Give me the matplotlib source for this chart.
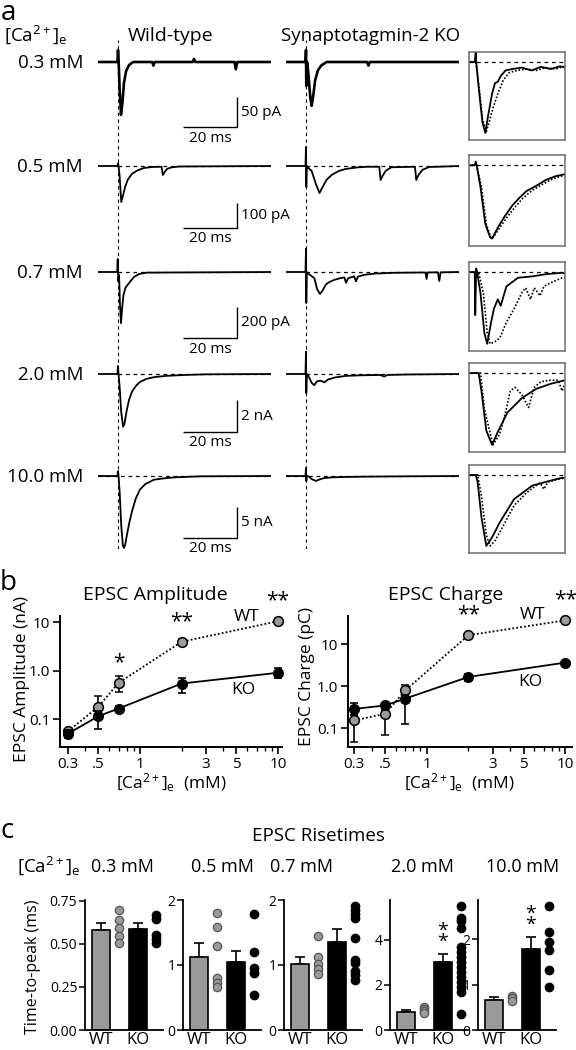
"""
Syt2 KO EPSCs - traces, Ca dependence, risetimes
"""

import matplotlib
matplotlib.use('Agg')
import matplotlib.pyplot as plt
from matplotlib.ticker import FixedLocator, NullLocator, NullFormatter

plt.rcParams['font.family'] = ['Open Sans', 'DejaVu Sans']
plt.rcParams['mathtext.fontset'] = 'custom'
plt.rcParams['mathtext.rm'] = 'Open Sans'
plt.rcParams['mathtext.it'] = 'Open Sans:italic'

W, H = 576, 1050
CA_TXT = r'[Ca$^{2+}$]$_{\rm e}$'

# ---------------- panel a : traces (ms, pA or nA) ----------------
row_labels = ['0.3 mM', '0.5 mM', '0.7 mM', '2.0 mM', '10.0 mM']
bar_labels = ['50 pA', '100 pA', '200 pA', '2 nA', '5 nA']
bar_sizes = [50, 100, 200, 2, 5]
stim_t = 7.4

wt03_t = [0, 7.2, 7.4, 7.6, 8.0, 8.5, 9.0, 9.6, 10.4, 11.5, 13, 20, 20.5, 21, 35, 35.5, 36, 50.5, 51, 51.5, 64]
wt03_v = [0, 0, 20, 5, -45, -88, -70, -35, -15, -5, 0, 0, -6, 0, 0, 5, 0, 0, -12, 0, 0]
ko03_t = [0, 7.2, 7.4, 7.5, 7.8, 8.3, 9.0, 9.5, 10.1, 10.8, 11.8, 13, 15, 30, 30.5, 31, 64]
ko03_v = [0, 0, 20, -40, 0, -20, -60, -73, -55, -30, -14, -6, 0, 0, -6, 0, 0]

wt05_t = [0, 7.2, 7.4, 7.6, 8.0, 8.6, 9.2, 10.0, 11.0, 12.5, 14.5, 17, 20, 23.5, 24.0, 24.6, 25.5, 27, 30, 64]
wt05_v = [0, 0, 10, 0, -40, -144, -120, -85, -55, -32, -18, -8, -4, -3, -36, -25, -12, -6, -2, 0]
ko05_t = [0, 7.2, 7.4, 7.5, 7.7, 8.0, 9.5, 11.0, 12.4, 13.5, 15, 17, 19.5, 22, 26, 30, 34.5, 35.0, 35.8,
          37, 39, 47.7, 48.2, 49, 50.5, 53, 64]
ko05_v = [0, 0, 76, -84, 0, -5, -20, -70, -108, -85, -55, -35, -20, -12, -6, -3, -3, -56, -38,
          -18, -5, -3, -56, -36, -15, -4, 0]

wt07_t = [0, 7.1, 7.3, 7.5, 7.8, 8.1, 8.5, 8.9, 9.4, 10.2, 11.5, 13.3, 15.2, 18, 64]
wt07_v = [0, 0, 84, -60, -20, -200, -330, -240, -150, -100, -71, -32, -13, -4, 0]
ko07_t = [0, 7.2, 7.4, 7.5, 7.7, 8.2, 10.5, 11.5, 12.6, 13.5, 14.8, 16, 18, 20, 21.6, 22.2, 23, 25.2,
          25.9, 26.6, 29, 33, 40, 51.6, 52.0, 52.4, 56.2, 56.7, 57.2, 64]
ko07_v = [0, 0, 155, -200, 0, -10, -40, -110, -142, -120, -80, -65, -50, -40, -35, -70, -40, -28,
          -60, -30, -18, -10, -5, -3, -45, -3, -2, -58, -2, 0]

wt20_t = [0, 7.2, 7.4, 7.6, 8.0, 8.6, 9.3, 9.8, 10.6, 11.5, 12.6, 14, 15.5, 18, 21, 25, 32, 40, 64]
wt20_v = [0, 0, 0.5, 0, -0.8, -2.4, -3.3, -3.1, -2.3, -1.6, -1.1, -0.75, -0.5, -0.3, -0.19, -0.12, -0.06, -0.02, 0]
ko20_t = [0, 7.2, 7.4, 7.5, 7.7, 8.5, 9.5, 10.4, 11.5, 12.8, 14.2, 15.5, 18, 22, 28, 35, 36.3, 37.5, 45, 64]
ko20_v = [0, 0, 1.4, -1.2, 0, -0.2, -0.55, -0.7, -0.45, -0.42, -0.52, -0.35, -0.22, -0.12, -0.08, -0.06,
          -0.16, -0.06, -0.03, 0]

wt10_t = [0, 7.2, 7.4, 7.6, 8.0, 8.6, 9.2, 9.6, 10.1, 10.7, 11.6, 12.7, 14, 15.5, 17.5, 20.7, 25, 29, 38, 64]
wt10_v = [0, 0, 0.8, 0, -2.5, -8, -11.2, -11.6, -11.0, -9.5, -7.5, -5.5, -3.6, -2.2, -1.3, -0.6, -0.35,
          -0.2, -0.05, 0]
ko10_t = [0, 7.2, 7.4, 7.5, 7.7, 8.5, 9.5, 11.0, 12.5, 14, 17, 22, 30, 45, 64]
ko10_v = [0, 0, 1.3, -0.8, 0, -0.1, -0.5, -0.8, -0.55, -0.35, -0.22, -0.15, -0.1, -0.05, 0]

wt_traces = [(wt03_t, wt03_v), (wt05_t, wt05_v), (wt07_t, wt07_v), (wt20_t, wt20_v), (wt10_t, wt10_v)]
ko_traces = [(ko03_t, ko03_v), (ko05_t, ko05_v), (ko07_t, ko07_v), (ko20_t, ko20_v), (ko10_t, ko10_v)]

# normalised insets (time as fraction of window, amplitude / peak)
in03_wt = ([0, 0.06, 0.07, 0.075, 0.10, 0.14, 0.17, 0.20, 0.24, 0.27, 0.30, 0.33, 0.38, 0.45, 0.55, 0.65, 0.75, 0.85, 0.95, 1.0],
           [0, 0, 0.14, 0, -0.35, -0.85, -1.0, -0.75, -0.45, -0.3, -0.28, -0.2, -0.12, -0.1, -0.08, -0.12, -0.07, -0.1, -0.06, -0.08])
in03_ko = ([0, 0.07, 0.10, 0.14, 0.18, 0.21, 0.25, 0.30, 0.36, 0.42, 0.5, 0.6, 0.7, 0.8, 0.9, 1.0],
           [0, 0, -0.3, -0.8, -0.98, -0.85, -0.65, -0.45, -0.25, -0.15, -0.12, -0.1, -0.12, -0.08, -0.1, -0.06])
in05_wt = ([0, 0.06, 0.07, 0.08, 0.12, 0.17, 0.22, 0.24, 0.30, 0.37, 0.45, 0.52, 0.6, 0.7, 0.8, 0.9, 1.0],
           [0, 0, 0.05, 0, -0.3, -0.8, -0.98, -1.0, -0.85, -0.7, -0.55, -0.45, -0.35, -0.28, -0.2, -0.15, -0.12])
in05_ko = ([0, 0.08, 0.13, 0.18, 0.23, 0.26, 0.32, 0.4, 0.48, 0.56, 0.65, 0.75, 0.85, 0.95, 1.0],
           [0, 0, -0.3, -0.8, -1.0, -0.97, -0.85, -0.7, -0.57, -0.45, -0.35, -0.27, -0.2, -0.15, -0.14])
in07_wt = ([0, 0.06, 0.065, 0.075, 0.085, 0.12, 0.16, 0.19, 0.23, 0.26, 0.30, 0.33, 0.39, 0.51, 0.66, 0.8, 0.97, 1.0],
           [0, 0, -0.6, 0.05, 0, -0.3, -0.85, -1.0, -0.7, -0.51, -0.38, -0.47, -0.2, -0.08, -0.06, -0.03, -0.01, -0.02])
in07_ko = ([0, 0.1, 0.15, 0.19, 0.22, 0.27, 0.32, 0.39, 0.47, 0.55, 0.59, 0.64, 0.68, 0.74, 0.78, 0.85, 0.97, 1.0],
           [0, 0, -0.3, -0.85, -1.0, -0.97, -0.92, -0.7, -0.51, -0.29, -0.22, -0.38, -0.22, -0.33, -0.2, -0.15, -0.08, -0.07])
in20_wt = ([0, 0.1, 0.13, 0.18, 0.24, 0.3, 0.4, 0.55, 0.7, 0.85, 1.0],
           [0, 0, -0.25, -0.8, -1.0, -0.82, -0.55, -0.35, -0.22, -0.15, -0.1])
in20_ko = ([0, 0.12, 0.16, 0.25, 0.32, 0.38, 0.43, 0.48, 0.55, 0.62, 0.68, 0.75, 0.85, 0.93, 0.97, 1.0],
           [0, 0, -0.5, -1.0, -0.85, -0.55, -0.25, -0.2, -0.3, -0.48, -0.2, -0.12, -0.1, -0.1, -0.25, -0.15])
in10_wt = ([0, 0.07, 0.09, 0.13, 0.18, 0.24, 0.32, 0.47, 0.66, 0.85, 0.97, 1.0],
           [0, 0, -0.1, -0.6, -1.0, -0.88, -0.67, -0.34, -0.15, -0.08, -0.04, -0.04])
in10_ko = ([0, 0.09, 0.13, 0.18, 0.22, 0.27, 0.32, 0.47, 0.6, 0.74, 0.78, 0.82, 0.9, 0.97, 1.0],
           [0, 0, -0.3, -0.85, -1.0, -0.93, -0.81, -0.43, -0.25, -0.11, -0.2, -0.1, -0.07, -0.05, -0.05])
insets = [(in03_wt, in03_ko), (in05_wt, in05_ko), (in07_wt, in07_ko), (in20_wt, in20_ko), (in10_wt, in10_ko)]

# ---------------- panel b ----------------
ca_mm = [0.3, 0.5, 0.7, 2.0, 10.0]
amp_wt = [0.056, 0.18, 0.56, 3.9, 10.4]
amp_wt_lo = [0.006, 0.06, 0.2, 0.5, 0.8]
amp_wt_hi = [0.006, 0.12, 0.2, 0.6, 0.9]
amp_ko = [0.05, 0.115, 0.165, 0.54, 0.9]
amp_ko_lo = [0.01, 0.052, 0.02, 0.19, 0.19]
amp_ko_hi = [0.01, 0.035, 0.025, 0.17, 0.24]
amp_stars = ['', '', '*', '**', '**']

chg_wt = [0.155, 0.22, 0.8, 16.4, 37]
chg_wt_lo = [0.108, 0.152, 0.2, 2.0, 4.0]
chg_wt_hi = [0.05, 0.05, 0.26, 2.0, 4.0]
chg_ko = [0.29, 0.35, 0.51, 1.67, 3.66]
chg_ko_lo = [0.08, 0.05, 0.38, 0.3, 0.35]
chg_ko_hi = [0.1, 0.05, 0.1, 0.3, 0.35]
chg_stars = ['', '', '', '**', '**']

# ---------------- panel c ----------------
rt_titles = ['0.3 mM', '0.5 mM', '0.7 mM', '2.0 mM', '10.0 mM']
rt_wt = [0.58, 1.13, 1.02, 0.78, 0.67]
rt_wt_sem = [0.04, 0.21, 0.11, 0.1, 0.05]
rt_ko = [0.585, 1.04, 1.36, 3.0, 1.79]
rt_ko_sem = [0.035, 0.17, 0.19, 0.37, 0.27]
rt_wt_pts = [[0.695, 0.64, 0.59, 0.548, 0.505],
             [1.8, 1.58, 1.3, 0.8, 0.73, 0.66],
             [1.44, 1.13, 1.01, 0.94, 0.86],
             [1.02, 0.93, 0.84, 0.74],
             [0.76, 0.70, 0.64]]
rt_ko_pts = [[0.67, 0.645, 0.55, 0.53, 0.505],
             [1.78, 1.2, 0.95, 0.87, 0.54],
             [1.91, 1.85, 1.78, 1.72, 1.41, 1.08, 1.03, 0.91, 0.84, 0.77],
             [5.5, 4.95, 4.8, 4.5, 3.66, 3.44, 3.22, 3.0, 2.77, 2.55, 2.33, 2.11, 1.89, 1.67, 0.71],
             [2.73, 2.17, 1.95, 1.76, 1.32, 0.96]]
rt_stars = ['', '', '', '*\n*', '*\n*']
rt_ymax = [0.755, 2.0, 2.0, 5.75, 2.87]
rt_yticks = [[0, 0.25, 0.5, 0.75], [0, 1, 2], [0, 1, 2], [0, 2, 4], [0, 1, 2]]
rt_ytick_labels = [['0.00', '0.25', '0.50', '0.75'], ['0', '1', '2'], ['0', '1', '2'], ['0', '2', '4'], ['0', '1', '2']]

GRAY = '#9a9a9a'

fig = plt.figure(figsize=(W / 100, H / 100), dpi=100)


def ax_px(x0, y0, x1, y1, **kw):
    return fig.add_axes([x0 / W, 1 - y1 / H, (x1 - x0) / W, (y1 - y0) / H], **kw)


def txt(x, y, s, **kw):
    fig.text(x / W, 1 - y / H, s, **kw)


def blank(ax):
    ax.set_axis_off()


# ===== panel a =====
txt(1, 20, 'a', fontsize=20, va='baseline')
txt(4, 41, CA_TXT, fontsize=13.5, va='baseline')
txt(171, 41, 'Wild-type', fontsize=14, ha='center', va='baseline')
txt(371, 41, 'Synaptotagmin-2 KO', fontsize=13.5, ha='center', va='baseline')

col_x = [(98, 271), (286, 459)]
t_end = 64
for x0, x1 in col_x:
    cax = ax_px(x0, 40, x1, 549)
    cax.set_xlim(0, t_end)
    cax.set_ylim(0, 1)
    cax.axvline(stim_t, color='k', lw=0.8, ls=(0, (3, 3)))
    blank(cax)

baselines = [62, 166, 272, 374, 476]
bar_px = [30, 25, 31, 32, 31]
bar_bottom = [127, 228, 338, 432, 538]
inset_box = [(52, 140), (155, 246), (262, 351), (363, 452), (465, 553)]

for i in range(5):
    base = baselines[i]
    ppu = bar_px[i] / bar_sizes[i]
    top_px, bot_px = base - 24, base + 80
    ylim = (-(bot_px - base) / ppu, (base - top_px) / ppu)
    txt(83, base + 1, row_labels[i], fontsize=13.5, ha='right', va='center')
    lw = 1.9 if i == 0 else 1.3
    for j, (x0, x1) in enumerate(col_x):
        ax = ax_px(x0, top_px, x1, bot_px)
        ax.set_xlim(0, t_end)
        ax.set_ylim(*ylim)
        blank(ax)
        t, v = (wt_traces if j == 0 else ko_traces)[i]
        ax.plot(t, v, color='k', lw=lw, solid_joinstyle='round')
        if i > 0:
            h0 = 0 if i == 4 else stim_t
            ax.plot([h0, t_end], [0, 0], color='k', lw=0.9, ls=(0, (3, 3)))
        if j == 0:
            # scale bar
            tb = (237 - x0) / 54 * 20
            yb = -(bar_bottom[i] - base) / ppu
            ax.plot([tb - 20, tb, tb], [yb, yb, yb + bar_sizes[i]], color='k', lw=1.0,
                    clip_on=False, solid_capstyle='butt')
    txt(241, bar_bottom[i] - bar_px[i] / 2, bar_labels[i], fontsize=11, va='center')
    txt(210, bar_bottom[i] + 11, '20 ms', fontsize=11, ha='center', va='center')

    # inset
    y0, y1 = inset_box[i]
    iax = ax_px(469, y0, 565, y1)
    iax.set_xlim(0, 1)
    iax.set_ylim(-1.1, 0.14)
    iax.set_xticks([])
    iax.set_yticks([])
    for s in iax.spines.values():
        s.set_color('#6e6e6e')
        s.set_linewidth(1.1)
    (wt_t, wt_v), (ko_t, ko_v) = insets[i]
    iax.axhline(0, color='k', lw=0.9, ls=(0, (3, 3)))
    iax.plot(ko_t, ko_v, color='k', lw=1.2, ls=(0, (1, 1.1)))
    iax.plot(wt_t, wt_v, color='k', lw=1.3)

# ===== panel b =====
txt(0, 590, 'b', fontsize=20, va='baseline')


def ca_plot(ax, wt, wt_lo, wt_hi, ko, ko_lo, ko_hi, stars, xlim, ylim):
    ax.set_xscale('log')
    ax.set_yscale('log')
    ax.errorbar(ca_mm, wt, yerr=[wt_lo, wt_hi], color='k', ls=(0, (1, 1.2)), lw=1.3,
                marker='o', ms=7, mfc=GRAY, mec='k', mew=1.1, capsize=3, elinewidth=1.2,
                capthick=1.2, zorder=3, clip_on=False)
    ax.errorbar(ca_mm, ko, yerr=[ko_lo, ko_hi], color='k', ls='-', lw=1.3,
                marker='o', ms=7, mfc='k', mec='k', capsize=3, elinewidth=1.2,
                capthick=1.2, zorder=4, clip_on=False)
    for x, y, s in zip(ca_mm, wt, stars):
        if s:
            ax.annotate(s, (x, y), xytext=(0, 7), textcoords='offset points',
                        ha='center', va='bottom', fontsize=15)
    ax.set_xlim(*xlim)
    ax.set_ylim(*ylim)
    ax.xaxis.set_major_locator(FixedLocator([0.3, 0.5, 1, 3, 5, 10]))
    ax.set_xticklabels(['0.3', '.5', '1', '3', '5', '10'])
    ax.xaxis.set_minor_locator(FixedLocator([0.4, 0.6, 0.7, 0.8, 0.9, 2, 4, 6, 7, 8, 9]))
    ax.xaxis.set_minor_formatter(NullFormatter())
    ax.yaxis.set_major_locator(FixedLocator([0.1, 1, 10]))
    ax.set_yticklabels(['0.1', '1.0', '10'])
    ax.yaxis.set_minor_locator(NullLocator())
    for s in ['top', 'right']:
        ax.spines[s].set_visible(False)
    for s in ['left', 'bottom']:
        ax.spines[s].set_linewidth(1.4)
    ax.tick_params(which='major', length=5, width=1.2, labelsize=11, pad=2)
    ax.tick_params(which='minor', length=3, width=1.0)
    ax.patch.set_alpha(0)


axb1 = ax_px(60, 616, 282, 747)
ca_plot(axb1, amp_wt, amp_wt_lo, amp_wt_hi, amp_ko, amp_ko_lo, amp_ko_hi, amp_stars,
        (0.263, 10.7), (0.0266, 13.3))
axb2 = ax_px(348, 616, 572, 747)
ca_plot(axb2, chg_wt, chg_wt_lo, chg_wt_hi, chg_ko, chg_ko_lo, chg_ko_hi, chg_stars,
        (0.27, 11.2), (0.036, 47))

txt(155, 595, 'EPSC Amplitude', fontsize=14, ha='center', va='center')
txt(446, 595, 'EPSC Charge', fontsize=14, ha='center', va='center')
txt(247, 617, 'WT', fontsize=12.5, ha='center', va='center')
txt(243, 690, 'KO', fontsize=12.5, ha='center', va='center')
txt(532, 615, 'WT', fontsize=12.5, ha='center', va='center')
txt(530, 682, 'KO', fontsize=12.5, ha='center', va='center')
txt(22, 679, 'EPSC Amplitude (nA)', fontsize=12.5, rotation=90, ha='center', va='center')
txt(307, 677, 'EPSC Charge (pC)', fontsize=12.5, rotation=90, ha='center', va='center')
txt(171, 783, CA_TXT + '  (mM)', fontsize=12.5, ha='center', va='center')
txt(459, 783, CA_TXT + '  (mM)', fontsize=12.5, ha='center', va='center')

# ===== panel c =====
txt(0, 838, 'c', fontsize=20, va='baseline')
txt(318, 841, 'EPSC Risetimes', fontsize=13.5, ha='center', va='baseline')
txt(17, 872, CA_TXT, fontsize=13.5, va='baseline')
title_x = [122, 222, 302, 422, 523]
spine_x = [85, 183, 284, 390, 478]

for k in range(5):
    x0 = spine_x[k]
    ax = ax_px(x0, 900, x0 + 78, 1030)
    ax.bar([0], [rt_wt[k]], width=1.0, color=GRAY, edgecolor='k', lw=1.2, zorder=2)
    ax.bar([2], [rt_ko[k]], width=1.0, color='k', edgecolor='k', lw=1.2, zorder=2)
    ax.errorbar([0], [rt_wt[k]], yerr=[[0], [rt_wt_sem[k]]], color='k', capsize=3.5,
                elinewidth=1.2, capthick=1.2, zorder=1)
    ax.errorbar([2], [rt_ko[k]], yerr=[[0], [rt_ko_sem[k]]], color='k', capsize=3.5,
                elinewidth=1.2, capthick=1.2, zorder=1)
    ax.plot([1] * len(rt_wt_pts[k]), rt_wt_pts[k], 'o', ms=6, mfc=GRAY, mec='#555555',
            mew=0.9, clip_on=False, zorder=3)
    ax.plot([3] * len(rt_ko_pts[k]), rt_ko_pts[k], 'o', ms=6, mfc='k', mec='k',
            clip_on=False, zorder=3)
    if rt_stars[k]:
        ax.text(2, rt_ko[k] + rt_ko_sem[k] + 0.02 * rt_ymax[k], rt_stars[k], ha='center',
                va='bottom', fontsize=14, linespacing=0.55)
    ax.set_xlim(-0.9, 3.4)
    ax.set_ylim(0, rt_ymax[k])
    ax.set_yticks(rt_yticks[k])
    ax.set_yticklabels(rt_ytick_labels[k])
    ax.set_xticks([0, 2])
    ax.set_xticklabels(['WT', 'KO'])
    ax.tick_params(axis='x', length=0, labelsize=12, pad=1.5)
    ax.tick_params(axis='y', length=4, width=1.1, labelsize=10, pad=1.5)
    for s in ['top', 'right']:
        ax.spines[s].set_visible(False)
    for s in ['left', 'bottom']:
        ax.spines[s].set_linewidth(1.3)
    ax.patch.set_alpha(0)
    txt(title_x[k], 872, rt_titles[k], fontsize=13, ha='center', va='baseline')

txt(33, 967, 'Time-to-peak (ms)', fontsize=11.5, rotation=90, ha='center', va='center')

fig.savefig('out.png', dpi=100)
